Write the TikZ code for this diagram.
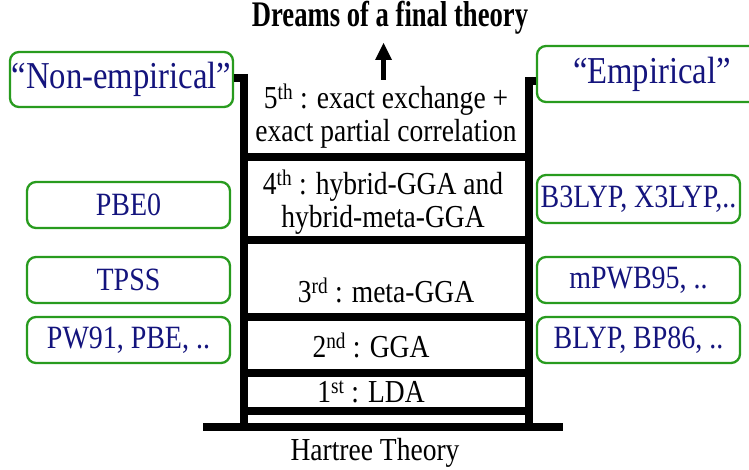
\documentclass[tikz,border=0pt]{standalone}
\usepackage{fontspec}
\setmainfont{Liberation Serif}[FakeStretch=0.86]
\newfontfamily\titlefont{Liberation Serif}[FakeStretch=0.74]
\usetikzlibrary{arrows.meta}
\definecolor{boxgreen}{RGB}{40,155,30}
\definecolor{navytext}{RGB}{20,20,125}
\tikzset{
  x=1pt, y=-1pt,
  sidebox/.style={draw=boxgreen, line width=2.3pt, rounded corners=9pt, fill=white,
    text=navytext, inner sep=0pt, font=\fontsize{32.5}{36}\selectfont},
  toplabel/.style={sidebox, font=\fontsize{38}{40}\selectfont},
  level/.style={text=black, align=center, inner sep=0pt, font=\fontsize{32}{33}\selectfont},
  rail/.style={line width=8pt, line cap=butt},
  rung/.style={line width=8pt},
}
\begin{document}
\begin{tikzpicture}
\useasboundingbox (0,0) rectangle (749,470);
% title and arrow
\node[font=\titlefont\bfseries\fontsize{36}{38}\selectfont, inner sep=0pt, anchor=base] (title) at (390,27) {Dreams of a final theory};
\coordinate (arrowfoot) at (383.5,80);
\coordinate (arrowtip) at (383.5,43);
\draw[line width=5pt, -{Triangle[width=17pt,length=17pt,line width=0pt]}] (arrowfoot) -- (arrowtip);

% side boxes
\node[toplabel, minimum width=223pt, minimum height=55pt] (nonemp) at (121.5,79.5) {``Non-empirical''};
\node[toplabel, minimum width=230pt, minimum height=56pt] (emp) at (652,74) {``Empirical''};
\node[sidebox, minimum width=203pt, minimum height=46pt] (pbe0) at (128.5,205) {PBE0};
\node[sidebox, minimum width=203pt, minimum height=46pt] (tpss) at (128.5,280) {TPSS};
\node[sidebox, minimum width=203pt, minimum height=46pt] (pw91) at (128.5,340) {PW91, PBE, ..};
\node[sidebox, minimum width=203pt, minimum height=48pt] (b3lyp) at (638.5,199) {B3LYP, X3LYP,..};
\node[sidebox, minimum width=203pt, minimum height=46pt] (mpwb) at (638.5,280) {mPWB95, ..};
\node[sidebox, minimum width=203pt, minimum height=46pt] (blyp) at (638.5,340) {BLYP, BP86, ..};

% ladder rails
\coordinate (lt) at (244,78);
\coordinate (lb) at (244,431);
\coordinate (rt) at (529,81);
\coordinate (rb) at (529,431);
\draw[rail] (nonemp.east |- lt) -- ([xshift=4pt]lt);
\draw[rail] (244,74) -- (lb);
\draw[rail] (emp.west |- rt) -- ([xshift=-4pt]rt);
\draw[rail] (529,77) -- (rb);
% rungs
\foreach \yy in {157,240,317,373,411} {
  \draw[rung] (244,\yy) -- (529,\yy);
}
% base
\coordinate (bl) at (203,427);
\coordinate (br) at (563,427);
\draw[rung] (bl) -- (br);

% level labels
\node[level] (l5) at (386,116) {5\textsuperscript{th} : exact exchange +\\exact partial correlation};
\node[level] (l4) at (383,202) {4\textsuperscript{th} : hybrid-GGA and\\hybrid-meta-GGA};
\node[level] (l3) at (386,290) {3\textsuperscript{rd} : meta-GGA};
\node[level] (l2) at (371,345) {2\textsuperscript{nd} : GGA};
\node[level] (l1) at (371,392) {1\textsuperscript{st} : LDA};
\node[level] (hartree) at (375,453) {Hartree Theory};
\end{tikzpicture}
\end{document}
